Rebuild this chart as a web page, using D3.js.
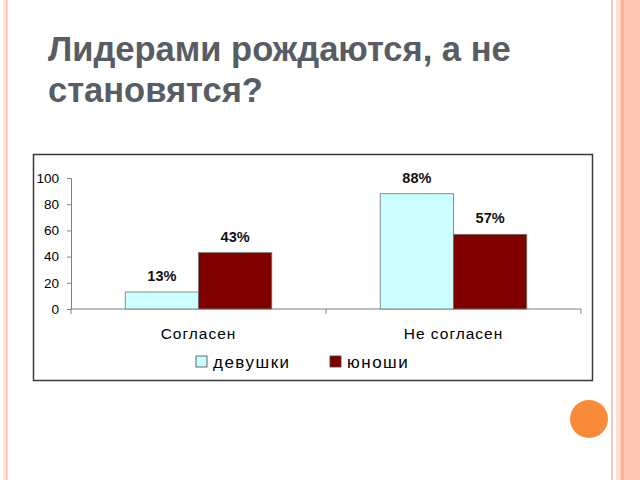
<!DOCTYPE html>
<html><head><meta charset="utf-8">
<script src="https://cdn.jsdelivr.net/npm/d3@7"></script>
<style>body{margin:0;background:#fff}svg{display:block}</style>
</head><body>
<script>
const categories = ["Согласен", "Не согласен"];
const seriesNames = ["девушки", "юноши"];
const girls = [13, 88];
const boys = [43, 57];
const yTicks = [0, 20, 40, 60, 80, 100];
const titleLines = ["Лидерами рождаются, а не", "становятся?"];
const colors = ["#ccffff", "#800000"];

const W = 640, H = 480;
const svg = d3.select("body").append("svg").attr("width", W).attr("height", H);

// slide decorations
svg.append("rect").attr("x",3).attr("y",0).attr("width",3).attr("height",H).attr("fill","#fde6dc");
svg.append("rect").attr("x",6).attr("y",0).attr("width",1.5).attr("height",H).attr("fill","#f7b9a6");
svg.append("rect").attr("x",611).attr("y",0).attr("width",2).attr("height",H).attr("fill","#f6cbbb");
svg.append("rect").attr("x",616).attr("y",0).attr("width",24).attr("height",H).attr("fill","#fcc6b2");
svg.append("rect").attr("x",616).attr("y",0).attr("width",4).attr("height",H).attr("fill","#fde0d4");
svg.append("rect").attr("x",621).attr("y",0).attr("width",3).attr("height",H).attr("fill","#f8b59c");
svg.append("circle").attr("cx",589).attr("cy",419).attr("r",19).attr("fill","#f98a38");

const font = "Liberation Sans, Arial, sans-serif";

// title
svg.append("g").selectAll("text").data(titleLines).join("text")
  .attr("x", 48).attr("y", (d,i) => 61 + i*41)
  .attr("font-family", font)
  .attr("font-weight", "bold").attr("font-size", 34.5)
  .attr("fill", "#585c63").text(d => d);

// chart frame
svg.append("rect").attr("x",33.5).attr("y",154.5).attr("width",559).attr("height",226)
  .attr("fill","#fff").attr("stroke","#3a3a3a").attr("stroke-width",1.5);

const x0 = d3.scaleBand().domain(categories).range([71, 581]).paddingInner(0).paddingOuter(0);
const x1 = d3.scaleBand().domain(seriesNames).range([0, x0.bandwidth()]).paddingInner(0).paddingOuter(0.74);
const y = d3.scaleLinear().domain([0, 100]).range([309, 178]);

// y axis
const yAxis = svg.append("g").attr("transform","translate(71,0)")
  .call(d3.axisLeft(y).tickValues(yTicks).tickSize(4).tickPadding(8));
yAxis.select(".domain").attr("stroke","#808080");
yAxis.selectAll(".tick line").attr("stroke","#808080");
yAxis.selectAll("text").attr("font-family",font).attr("font-size",13.5).attr("fill","#000");

// x axis
const xAxis = svg.append("g").attr("transform","translate(0,309)")
  .call(d3.axisBottom(x0).tickSize(0).tickPadding(19));
xAxis.select(".domain").attr("stroke","#808080").attr("d","M71,0H581");
xAxis.selectAll("text").attr("font-family",font).attr("font-size",15.5).attr("letter-spacing","1px").attr("fill","#000");
svg.append("g").selectAll("line").data([71, 71 + x0.bandwidth(), 581]).join("line")
  .attr("x1", d=>d).attr("x2", d=>d).attr("y1",309).attr("y2",314).attr("stroke","#808080");

// bars
const data = categories.map((c,i) => ({cat:c, vals:[girls[i], boys[i]]}));
const groups = svg.append("g").selectAll("g").data(data).join("g")
  .attr("transform", d => `translate(${x0(d.cat)},0)`);
groups.selectAll("rect").data(d => d.vals.map((v,j)=>({s:seriesNames[j], v, j}))).join("rect")
  .attr("x", d => x1(d.s)).attr("y", d => y(d.v))
  .attr("width", x1.bandwidth()).attr("height", d => y(0) - y(d.v))
  .attr("fill", d => colors[d.j]).attr("stroke", "#707070").attr("stroke-width", 0.8);
groups.selectAll("text").data(d => d.vals.map((v,j)=>({s:seriesNames[j], v, j}))).join("text")
  .attr("x", d => x1(d.s) + x1.bandwidth()/2).attr("y", d => y(d.v) - 11)
  .attr("text-anchor","middle").attr("font-family",font).attr("font-weight","bold")
  .attr("font-size",14.5).attr("fill","#111").text(d => d.v + "%");

// legend
const leg = svg.append("g").selectAll("g").data(seriesNames).join("g")
  .attr("transform", (d,i) => `translate(${[196, 330][i]},356)`);
leg.append("rect").attr("width",11).attr("height",11).attr("fill",(d,i)=>colors[i])
  .attr("stroke","#404040").attr("stroke-width",0.8);
leg.append("text").attr("x",17).attr("y",11.5).attr("font-family",font).attr("font-size",17)
  .attr("letter-spacing","1.5px").attr("fill","#000").text(d => d);
</script>
</body></html>
